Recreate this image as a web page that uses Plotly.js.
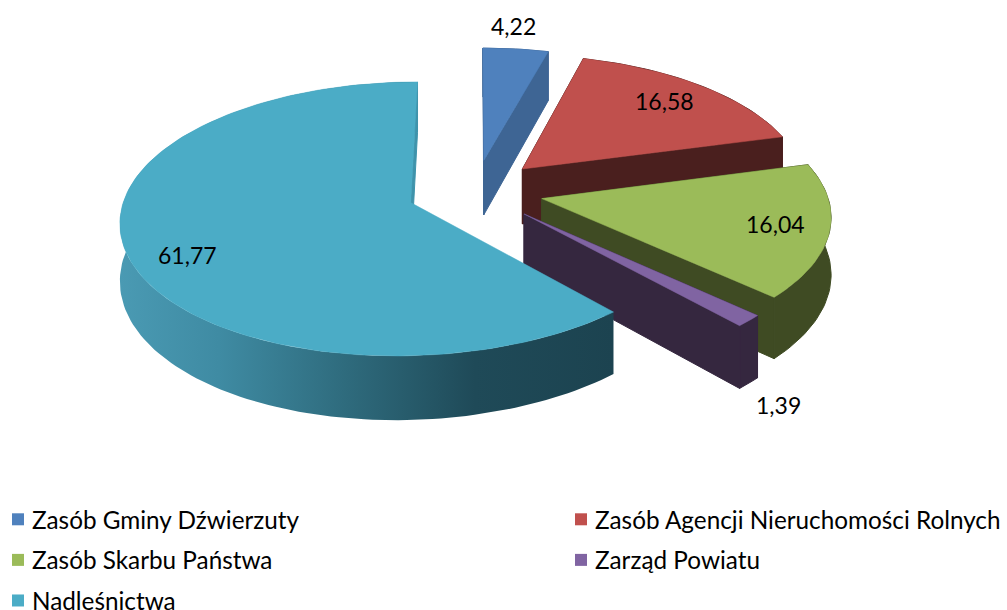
<!DOCTYPE html>
<html><head><meta charset="utf-8">
<script src="https://cdn.plot.ly/plotly-3.0.1.min.js"></script>
<style>html,body{margin:0;padding:0;background:#fff}#g{width:1007px;height:610px}</style>
</head><body><div id="g"></div>
<script>
const categories = ['Zasób Gminy Dźwierzuty','Zasób Agencji Nieruchomości Rolnych','Zasób Skarbu Państwa','Zarząd Powiatu','Nadleśnictwa'];
const values = [4.22,16.58,16.04,1.39,61.77];
const topColors = ['#4f81bd','#c0504d','#9bbb59','#8064a2','#4bacc6'];
const wallColors = ['#3e6594','#4a1f1e','#3f4b23','#35273f','#3f93ab'];
const legendRefs = ['legend','legend2','legend','legend2','legend'];
const labelX = [513,664,775,778,187];
const labelY = [26,101,224,405,255];

// projection of the exploded pie
const CX=475, CY=191, RX=284.5, RY=132.3, P=0.118, EXPL=0.24, DEPTH=56, SKEW=5, STEP=1.5;
function proj(u,v,z){const s=1/(1-P*v);return [CX+RX*u*s-SKEW*Math.max(0,v)*Math.max(0,v), CY+RY*v*s+DEPTH*z*s];}

const total = values.reduce((a,b)=>a+b,0);
const traces = [];
function poly(pts,color,extra,w){
  traces.push(Object.assign({type:'scatter',mode:'lines',x:pts.map(p=>p[0]),y:pts.map(p=>p[1]),
    fill:'toself',fillcolor:color,line:{width:w||1,color:color},hoverinfo:'skip',showlegend:false},extra||{}));
}
let acc=0;
values.forEach((val,i)=>{
  const a0=acc/total*360, a1=(acc+val)/total*360; acc+=val;
  const mid=(a0+a1)/2*Math.PI/180;
  const ox=EXPL*Math.sin(mid), oy=-EXPL*Math.cos(mid);
  const arc=[];
  for(let d=a0;;d+=STEP){const dd=Math.min(d,a1),r=dd*Math.PI/180;arc.push([ox+Math.sin(r),oy-Math.cos(r)]);if(dd>=a1)break;}
  const top=arc.map(p=>proj(p[0],p[1],0)), bot=arc.map(p=>proj(p[0],p[1],1));
  const apexT=proj(ox,oy,0), apexB=proj(ox,oy,1);
  // radial cut wall at the slice start (hidden under the top of the last slice)
  if(i!==4) poly([apexT,top[0],bot[0],apexB,apexT],wallColors[i]);
  // rim wall
  const rim=top.concat(bot.slice().reverse()); rim.push(top[0]);
  if(i===4){
    traces.push({type:'scatter',mode:'lines',x:rim.map(p=>p[0]),y:rim.map(p=>p[1]),fill:'toself',line:{width:0},hoverinfo:'skip',showlegend:false,
      fillgradient:{type:'horizontal',colorscale:[[0,'#4a9ab3'],[0.2,'#3f8ba3'],[0.45,'#2f6c7e'],[0.72,'#1f4a58'],[1,'#1c4350']]}});
  } else poly(rim,wallColors[i]);
  // radial cut wall at the slice end
  poly([apexT,top[top.length-1],bot[bot.length-1],apexB,apexT],wallColors[i]);
  // top face
  poly([apexT].concat(top,[apexT]),topColors[i],null,0.5);
});
// legend entries
categories.forEach((c,i)=>traces.push({type:'scatter',mode:'markers',x:[null],y:[null],name:c,legend:legendRefs[i],legendgroup:c,
  marker:{symbol:'square',size:15,color:topColors[i]},hoverinfo:'skip'}));

const FONT='Lato, Carlito, sans-serif';
const legendBase={bgcolor:'rgba(0,0,0,0)',borderwidth:0,font:{family:FONT,size:24.3,color:'#000'},tracegroupgap:6,itemsizing:'constant',xanchor:'left',yanchor:'top'};
const layout={width:1007,height:610,margin:{l:0,r:0,t:0,b:0,autoexpand:false},paper_bgcolor:'#fff',plot_bgcolor:'#fff',
  xaxis:{range:[0,1007],visible:false,fixedrange:true},
  yaxis:{range:[610,0],visible:false,fixedrange:true},
  showlegend:true,
  legend:Object.assign({},legendBase,{x:-8/1007,y:1-497/610}),
  legend2:Object.assign({},legendBase,{x:555/1007,y:1-497/610}),
  annotations:values.map((v,i)=>({x:labelX[i],y:labelY[i],xref:'x',yref:'y',showarrow:false,
    text:String(v).replace('.',','),font:{family:FONT,size:23,color:'#000'}}))
};
Plotly.newPlot('g',traces,layout,{displayModeBar:false,staticPlot:true}).then(gd=>{
  gd.querySelectorAll('.legendsymbols').forEach(n=>n.setAttribute('transform','translate(6,0)'));
});
</script></body></html>
